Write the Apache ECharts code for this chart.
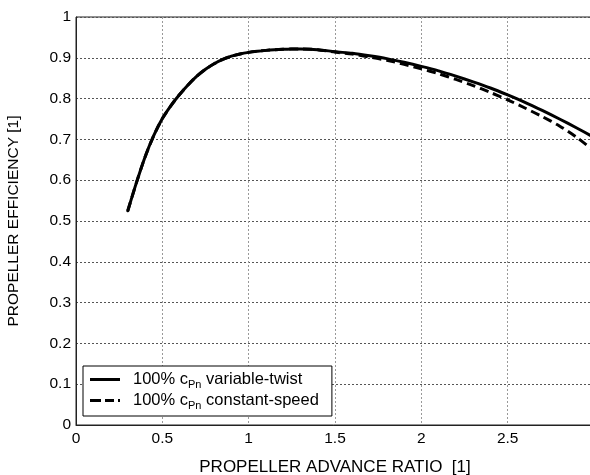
<!DOCTYPE html>
<html><head><meta charset="utf-8">
<script src="https://cdn.jsdelivr.net/npm/echarts@6/dist/echarts.min.js"></script>
<style>html,body{margin:0;padding:0;background:#fff}#c{width:590px;height:475px}</style>
</head><body><div id="c"></div>
<script>
const advanceRatio = [0.30,0.35,0.40,0.45,0.50,0.55,0.60,0.65,0.70,0.75,0.80,0.85,0.90,0.95,1.00,1.05,1.10,1.15,1.20,1.25,1.30,1.40,1.50,1.60,1.70,1.80,1.90,2.00,2.10,2.20,2.30,2.40,2.50,2.60,2.70,2.80,2.90,3.00];
const variableTwist = [0.525,0.594,0.657,0.709,0.751,0.783,0.810,0.834,0.855,0.872,0.8855,0.896,0.904,0.9095,0.9133,0.916,0.9182,0.9198,0.9209,0.9215,0.9216,0.920,0.915,0.911,0.905,0.898,0.889,0.879,0.868,0.855,0.841,0.826,0.809,0.791,0.771,0.750,0.728,0.705];
const constantSpeed = [0.525,0.594,0.657,0.709,0.751,0.783,0.810,0.834,0.855,0.872,0.8855,0.896,0.904,0.9095,0.9133,0.916,0.9182,0.9198,0.9209,0.9215,0.9216,0.920,0.914,0.909,0.902,0.894,0.884,0.873,0.861,0.847,0.832,0.815,0.797,0.777,0.756,0.733,0.705,0.672];
const seriesNames = ['100% c{sub|Pn} variable-twist','100% c{sub|Pn} constant-speed'];
const xTicks = [0,0.5,1,1.5,2,2.5];

const font = '"Liberation Sans", Arial, sans-serif';
const chart = echarts.init(document.getElementById('c'));
const pairs = arr => advanceRatio.map((x,i)=>[x,arr[i]]);
chart.setOption({
  animation:false,
  textStyle:{fontFamily:font},
  grid:{left:76,top:17,width:518,height:408,show:true,borderColor:'#222',borderWidth:1,
    backgroundColor:'transparent',containLabel:false,outerBoundsMode:'none'},
  xAxis:{type:'value',min:0,max:3,interval:0.5,
    name:'PROPELLER ADVANCE RATIO  [1]',nameLocation:'middle',nameGap:34,
    nameTextStyle:{color:'#000',fontSize:17,fontFamily:font},
    axisLine:{lineStyle:{color:'#222'}},axisTick:{show:false},
    axisLabel:{color:'#000',fontSize:15.5,fontFamily:font,margin:6,
      formatter:v=>xTicks.indexOf(v)>=0?String(v):''},
    splitLine:{show:true,lineStyle:{color:'#999',type:[2,2],width:1}}},
  yAxis:{type:'value',min:0,max:1,interval:0.1,
    name:'PROPELLER EFFICIENCY [1]',nameLocation:'middle',nameGap:54,
    nameTextStyle:{color:'#000',fontSize:15.5,fontFamily:font},
    axisLine:{show:true,lineStyle:{color:'#222'}},axisTick:{show:false},
    axisLabel:{color:'#000',fontSize:15.5,fontFamily:font,margin:5,formatter:v=>String(+v.toFixed(1))},
    splitLine:{show:true,lineStyle:{color:'#555',type:[2,2],width:1}}},
  legend:{orient:'vertical',left:83,top:366,itemWidth:30,itemHeight:3,itemGap:2,
    padding:[5,13,5,7],borderColor:'#000',borderWidth:1,backgroundColor:'#fff',
    data:[
      {name:seriesNames[0],icon:'rect'},
      {name:seriesNames[1],icon:'path://M0,0h11v3h-11zM15,0h9v3h-9zM28,0h2v3h-2z'}
    ],
    textStyle:{color:'#000',fontSize:16.5,fontFamily:font,padding:[0,0,0,8],
      rich:{sub:{fontSize:11,fontFamily:font,color:'#000',padding:[10,0,0,0]}}}},
  series:[
    {name:seriesNames[0],type:'line',data:pairs(variableTwist),smooth:0.25,showSymbol:false,symbol:'none',
      lineStyle:{color:'#000',width:3,join:'round',cap:'round'},itemStyle:{color:'#000'},z:3},
    {name:seriesNames[1],type:'line',data:pairs(constantSpeed),smooth:0.25,showSymbol:false,symbol:'none',
      lineStyle:{color:'#000',width:3,type:[9,5],join:'round'},itemStyle:{color:'#000'},z:2}
  ]
});
</script></body></html>
